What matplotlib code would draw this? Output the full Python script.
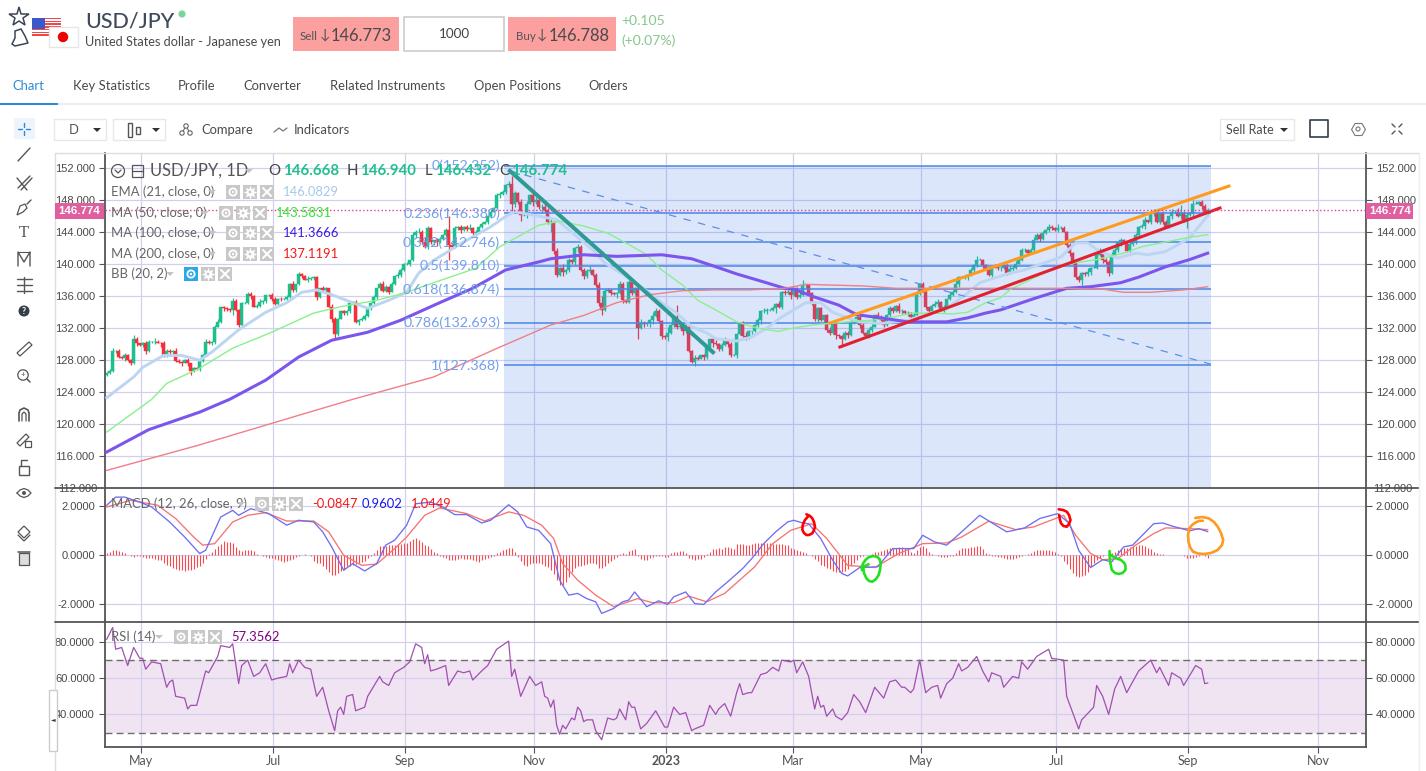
import numpy as np
import matplotlib
matplotlib.use('Agg')
import matplotlib.pyplot as plt
from matplotlib.patches import Rectangle, Circle, Polygon

plt.rcParams['font.family'] = ['Lato', 'DejaVu Sans']
plt.rcParams['lines.solid_joinstyle'] = 'round'

close_spring = [126.4,126.7,129.2,129.2,128.4,128.3,128.6,128.0,127.6,130.7,130.1,129.9,130.1,129.2,130.3,130.3,130.3,130.2,130.1,128.6,
    129.2,129.0,129.2,127.9,127.8,127.7,128.0,127.6,126.7,127.0,126.9,127.9,128.7,130.3,130.1,130.3,132.2,132.8,134.6,134.5,
    134.4,134.3,135.4,134.3,132.4,135.1,135.2,136.3,136.0,134.7,134.8,135.3,135.4,136.1,136.1,135.7,135.0,135.7,135.6,135.7,
    135.9,137.5,136.8,137.5,138.8,138.5,138.1,138.2,138.3,138.4,135.9,137.0,136.8,137.0,134.7,133.2,131.3,133.2]
close_autumn = [134.1,133.9,134.1,135.1,135.3,132.8,133.0,133.2,133.5,134.5,135.1,135.9,137.0,137.6,136.7,137.2,136.6,137.6,138.5,138.7,
    139.3,140.1,140.1,140.5,143.7,144.1,144.1,142.8,142.2,144.5,142.8,143.0,142.8,143.2,143.7,144.3,142.4,142.2,144.5,144.7,
    144.3,144.7,144.4,144.6,143.9,144.1,144.7,145.1,145.3,146.0,146.6,147.1,148.7,148.8,149.1,149.9,150.1,147.6,148.9,147.8,
    146.2,146.2,147.6,148.7,147.8,148.0,147.2,147.2,146.8,145.3,145.3]
close_winter = [141.7,138.7,139.5,139.0,139.3,140.5,140.3,142.1,142.2,139.3,138.5,139.2,139.3,138.7,137.4,135.2,134.3,136.7,136.8,136.4,
    136.3,136.4,137.6,135.5,135.3,137.8,136.4,137.0,132.0,132.6,132.5,132.6,133.0,133.5,134.2,132.9,131.0,130.9,131.4,132.4,
    133.4,132.1,132.3,131.7,132.2,129.2,127.8,128.3,128.2,128.6,128.4,129.7,130.6,130.1,130.0,129.4,129.9,130.4,130.0,128.6,
    128.6,131.3,132.6,131.0,130.9,131.6,131.6,132.4,133.0,134.1,134.1,134.3,134.3,134.5,135.0,134.6]
close_2023a = [136.6,136.4,136.6,136.2,137.0,135.9,136.2,137.4,137.4,136.4,135.1,133.1,134.5,133.0,133.6,131.8,131.4,132.6,131.1,131.0,
    130.7,131.4,131.1,132.7,133.1,133.4,132.4,131.4,131.0,131.8,132.2,133.6,133.4,133.0,132.4,133.6,134.5,134.1,134.8,134.1,
    134.2,133.9,133.9,133.4,133.7,136.4,137.6,136.6,134.6,134.1,134.8,135.0,135.3,134.2,134.7,135.6,136.2,136.6,137.6,138.4,
    138.4,138.4,138.7,139.3,139.9,140.6,140.6,139.9,139.4,138.7,139.7,139.7,139.5]
close_2023b = [139.5,139.9,138.9,139.4,139.6,140.1,140.6,141.8,141.8,141.4,141.8,143.1,143.7,143.2,143.9,144.3,144.7,144.6,144.3,144.6,
    144.6,144.1,142.4,141.4,140.2,138.4,138.0,138.9,138.8,139.1,139.6,139.6,141.2,141.7,140.5,140.3,138.9,141.2,141.8,142.8,
    143.0,142.8,141.7,142.6,142.8,143.7,144.7,144.8,145.5,145.3,146.4,146.6,145.3,146.4,145.3,144.7,146.0,146.6,146.6,146.0,
    146.4,145.5,146.2,146.4,147.6,147.6,147.8,147.3,146.6,146.77]

# wicks above and below the body, tenths of a yen, 20 bars a row
wick_up = [1,2,3,1,2,1,3,2,1,4,2,1,2,3,2,1,5,2,1,3,
    2,2,1,3,2,1,2,3,1,2,1,2,1,3,2,1,2,3,1,2,
    2,1,4,2,1,2,1,3,2,1,2,3,1,1,2,3,2,1,2,1,
    3,2,4,1,2,1,2,3,1,2,2,1,3,2,1,3,2,1,2,2,
    2,3,1,2,1,2,3,1,1,2,1,2,3,2,1,2,1,3,2,1,
    2,1,3,2,5,2,6,3,2,1,3,2,1,2,17,2,3,1,2,1,
    2,4,1,2,1,2,1,2,3,1,2,3,2,1,3,10,3,2,4,3,
    3,1,2,4,2,3,5,2,4,1,3,2,6,1,3,2,1,4,2,3,
    2,5,1,2,4,8,2,3,1,2,1,3,2,1,4,2,2,4,6,3,
    2,1,5,3,2,1,2,8,1,3,15,2,1,3,2,1,4,2,1,2,
    2,1,3,4,1,2,5,1,3,2,1,2,3,5,2,1,1,3,2,4,
    2,1,3,2,4,1,2,3,3,1,2,3,6,2,1,2,3,2,2,1,
    2,4,3,1,2,2,3,2,5,1,2,4,3,1,2,3,1,4,2,1,
    2,3,2,1,4,2,1,3,1,2,2,1,2,3,1,2,4,3,1,2,
    1,3,2,4,1,2,2,1,3,2,4,2,1,2,3,1,4,3,2,1,
    2,4,2,3,1,2,3,1,2,3,2,2,3,1,3,2,1,4,2,2,
    1,3,2,1,3,2,1,4,1,2,1,4,2,3,2,4,2,1,3,2,
    1,2,4,2,1,3,4,1,2,3,2,1,3,2,1,3,2,4,10,3,
    2,1,5,3,1,2,2,3]
wick_dn = [2,1,2,3,1,2,4,1,2,1,3,1,2,4,2,1,3,1,5,2,
    2,3,2,1,2,4,1,3,5,2,1,2,1,2,1,2,3,1,2,4,
    2,3,6,1,2,3,1,2,4,1,2,1,3,2,1,3,1,2,2,1,
    2,1,3,2,1,2,1,3,1,2,4,1,3,2,1,4,7,3,1,2,
    3,2,1,2,4,1,2,1,2,1,3,2,1,2,3,1,2,2,3,1,
    2,3,1,4,2,2,1,3,2,4,5,1,2,3,19,3,1,2,4,1,
    2,1,2,3,1,2,1,3,2,1,2,4,1,3,2,12,4,3,8,2,
    4,1,5,2,3,8,3,2,12,4,3,1,5,2,3,2,4,6,1,3,
    2,3,1,2,4,7,2,1,3,2,5,1,4,2,1,3,2,13,1,3,
    2,4,5,1,2,3,3,5,1,2,2,1,6,3,2,2,5,2,1,4,
    2,3,5,1,3,2,1,4,2,1,3,2,1,4,2,3,1,2,5,2,
    3,1,2,6,1,2,3,1,5,2,3,1,2,4,1,2,2,3,1,2,
    3,2,1,4,2,10,2,3,1,2,3,4,1,2,2,3,1,2,1,2,
    1,3,2,1,2,3,1,4,2,1,2,3,1,2,4,1,2,3,1,2,
    3,1,2,2,4,1,2,3,1,2,2,1,3,1,2,4,1,2,3,1,
    2,1,3,2,1,2,3,2,1,3,1,4,2,1,2,3,1,2,2,1,
    2,3,1,2,2,6,3,2,4,1,2,1,3,2,4,1,2,3,5,1,
    2,1,3,2,1,2,4,1,2,3,1,2,3,1,2,3,2,1,3,2,
    9,2,3,1,2,4,3,5]

tick_bars = [11.3,55.5,99.5,142.5,186.5,228.7,271.5,316.5,360.5,403.8]
tick_names = ['May','Jul','Sep','Nov','2023','Mar','May','Jul','Sep','Nov']

ema_x = [0,9,12,19,25,31,35,44,53,60,65,70,75,82,87,94,100,104,109,119,128,133,136,150,162,166,171,175,181,185,190,195,200,203,210,215,220,225,229,233,238,242,247,251,258,267,280,287,291,301,306,318,323,327,331,337,343,347,353,361,367]
ema_y = [123.3,125.9,127.1,128.6,128.6,128.0,129.0,131.8,134.0,135.2,136.5,136.8,136.2,135.2,134.5,135.5,136.5,138.9,140.5,142.8,144.7,146.0,146.6,145.6,141.8,140.2,139.0,138.0,136.4,135.2,133.9,132.2,131.4,130.7,130.4,130.9,132.0,133.4,134.3,135.2,135.2,134.0,133.3,132.8,132.6,133.0,134.5,136.4,137.7,138.9,139.3,140.9,142.7,142.7,141.6,140.8,141.4,141.2,141.6,143.3,146.1]
ma50_x = [0,15,20,31,42,55,69,78,90,100,109,123,131,144,151,159,167,174,180,185,192,197,203,210,217,224,227,235,247,255,262,269,275,282,287,293,298,301,309,317,323,330,339,345,353,361,367]
ma50_y = [119.0,123.1,125.1,127.0,129.5,131.5,133.9,134.7,135.5,136.5,137.7,139.5,142.2,144.9,145.4,144.8,143.9,142.5,141.2,139.3,137.4,135.5,134.3,132.8,132.0,131.6,131.9,132.4,132.8,133.0,133.4,133.9,133.9,133.8,134.0,135.2,135.8,136.8,138.3,139.7,140.2,140.6,141.4,142.2,142.8,143.4,143.7]
ma100_x = [0,14,31,41,53,64,75,87,98,111,122,133,144,148,159,170,185,195,203,210,219,226,229,236,244,250,258,267,280,287,293,298,309,320,328,338,344,353,361,367]
ma100_y = [116.5,119.3,121.5,123.1,125.5,128.4,130.5,131.5,133.0,135.2,137.0,139.3,140.3,140.7,141.2,141.0,141.2,140.7,139.7,138.8,137.8,137.0,136.9,135.9,134.9,133.7,133.3,132.8,132.8,133.3,133.9,134.3,135.7,137.0,137.2,137.7,138.4,139.7,140.6,141.4]
ma200_x = [0,31,64,82,109,129,148,159,170,181,192,203,214,226,233,242,252,263,280,298,320,332,339,348,359,363,367]
ma200_y = [114.2,117.4,121.1,123.1,125.9,129.3,132.4,133.6,135.2,136.2,136.7,136.8,136.8,137.0,137.5,137.4,137.3,137.0,137.0,137.0,137.0,136.9,136.5,136.5,136.8,137.0,137.2]

fib_levels = [152.352,146.380,142.746,139.810,136.874,132.693,127.368,111.080]
fib_names = ['0','0.236','0.382','0.5','0.618','0.786','1','1.618']

teal_x, teal_y = [134.4,202.1], [151.7,129.0]
fibdash_x, fibdash_y = [134.4,368.1], [151.7,127.5]
orange_x, orange_y = [241.1,374.1], [132.65,149.8]
red_x, red_y = [244.4,371.1], [129.65,147.05]

macd_x = [0,3,6,11,15,21,26,31,33,38,42,44,48,54,60,64,69,72,75,79,82,86,90,93,96,100,103,108,112,116,120,125,128,134,137,140,144,148,151,154,157,160,163,165,169,172,174,176,180,184,187,189,193,196,199,203,207,212,
    215,219,223,227,229,232,234,238,242,245,247,251,257,262,269,272,276,280,285,291,300,306,311,317,321,324,328,332,335,339,342,349,352,355,361,364,367]
macd_y = [2.03,2.36,2.36,2.16,1.96,1.35,.74,.07,.2,1.55,1.82,1.62,1.89,1.69,1.22,1.42,1.35,.95,.34,-.61,-.34,-.64,-.34,.41,.61,1.22,2.09,2.16,1.96,1.65,1.65,1.31,1.42,2.05,1.76,1.15,1.01,.47,-1.01,-1.62,-1.55,-1.76,-1.89,-2.36,-2.16,-1.89,-1.82,-1.49,-2.09,-1.85,-2.0,-1.69,-1.49,-1.96,-2.0,-1.49,-1.08,-.54,
    -.14,.47,.95,1.35,1.42,1.31,1.28,.68,-.2,-.74,-.84,-.5,-.47,.27,.27,.81,.54,.41,.95,1.62,.95,1.11,1.49,1.69,1.28,.2,-.5,-.18,-.27,.34,.41,1.28,1.31,1.19,.99,1.08,.96]
signal_x = [0,8,17,23,29,32,36,42,47,53,60,69,74,79,85,90,96,100,106,111,120,126,134,139,145,149,152,157,163,169,177,182,189,194,200,206,211,
    216,222,228,235,240,247,256,264,272,280,285,294,303,309,319,323,328,332,337,343,349,353,361,367]
signal_y = [1.96,2.23,2.03,1.49,.74,.41,.47,1.35,1.62,1.73,1.39,1.39,.95,0,-.41,-.36,.27,.74,1.62,1.92,1.69,1.39,1.76,1.62,1.22,.68,-.34,-1.01,-1.62,-2.09,-1.76,-1.93,-1.93,-1.66,-1.89,-1.55,-1.01,
    -.47,.47,1.01,1.28,.68,-.41,-.5,.07,.47,.5,.74,1.38,1.04,1.15,1.62,.81,.07,-.18,-.14,.41,.88,1.11,1.08,1.04]

# histogram in hundredths, 5 bars a group
hist = [8,14,23,21,19, 15,8,3,-3,-7, -2,-3,-7,-10,-11, -13,-14,-18,-21,-30, -38,-42,-50,-55,-58,
    -60,-62,-61,-58,-54, -49,-42,-30,-14,4, 13,25,36,44,57, 54,52,48,35,20, 18,20,20,22,19,
    4,1,-4,-7,-11, -13,-16,-20,-23,-26, -24,-20,-15,-9,-3, 3,4,2,-5,-25, -30,-33,-42,-56,-70,
    -80,-82,-72,-65,-55, -45,-42,-38,-35,-30, -28,-25,-12,-2,8, 22,36,38,39,42, 40,42,44,46,48,
    50,56,66,70,60, 52,42,38,26,14, 8,-2,-6,-12,-18, -20,-18,-14,-13,-14, -15,-16,-20,-24,-26,
    -20,-16,-12,-8,-3, 8,14,22,26,28, 30,14,-6,-22,-38, -42,-34,-30,-32,-30, -36,-42,-48,-60,-78,
    -100,-120,-122,-108,-90, -70,-52,-44,-42,-40, -36,-32,-30,-35,-52, -50,-44,-30,-24,-15,
    -6,5,8,6,18, 22,24,-4,-16,-20, -18,-12,-6,-2,-3, -5,-7,-8,10,14, 14,16,18,8,-10,
    -16,-18,-16,-14,-8, 4,14,24,25,28, 27,32,35,30,26, 47,46,44,42,42, 45,48,50,48,50,
    50,48,46,45,47, 44,42,40,30,26, 20,18,12,8,3, -2,-14,-25,-38,-45, -50,-55,-62,-68,-70,
    -68,-65,-55,-42,-30, -18,-8,-3,-1,2, 6,12,14,18,22, 26,28,30,30,32, 34,30,24,12,8,
    22,35,38,30,14, 6,2,-2,-6,-9, -8,-5,-2,10,22, 28,30,31,32,34, 36,38,24,8,4,
    -2,-5,-6,-9,-12, -14,-16,-15,-12,-6, -2,2,4,10,16, 20,22,20,23,20, 16,12,6,-4,-22,
    -35,-55,-72,-84,-88, -86,-80,-68,-45,-30, -18,-10,-4,2,4, 8,14,20,24,28, 30,32,36,38,40,
    40,38,30,24,15, 8,5,4,3,3, 1,1,1,-1,-5, -10,-11,-10,-6,-2, 2,-4,-12]

rsi_x = [0,2,3,5,7,9,11,12,13,15,18,20,21,22,23,26,27,28,30,33,34,37,38,41,42,44,45,47,49,51,53,55,57,60,61,62,64,66,68,70,72,74,76,77,78,79,80,82,83,86,87,91,92,94,96,99,101,103,105,106,107,108,110,113,114,117,119,121,122,125,127,130,134,135,136,138,141,143,145,146,147,148,149,150,151,152,153,155,156,157,158,159,160,162,163,165,167,169,170,171,173,174,175,176,178,180,183,186,187,189,191,193,195,196,199,201,
    203,204,206,208,210,211,212,214,215,218,220,222,224,225,228,229,230,232,234,236,237,238,239,240,242,243,245,247,249,251,253,256,259,261,263,265,266,268,269,271,273,275,277,278,280,282,284,285,287,290,292,294,295,298,299,302,304,305,307,310,314,315,319,320,324,325,329,330,332,334,336,338,340,344,348,350,351,354,355,358,359,363,365,366,367]
rsi_y = [81.5,88,76,77,67,77,71,71,65,69,68,55,58,59,50,49,43,45,45,64,63,72,78,77,79,57,67,70,61,63,68,59,60,61,68,63,70,66,65,50,55,42,31,42,44,40,50,51,42,44,50,61,58,56,63,66,69,79,77,68,73,64,65,67,56,64,63,64,59,64,67,76,80.5,61,65,50,61,56,58,50,49,44,48,34,29,34,32,38,37,44,42,36,37,37,31,26,38,37,38,43,37,47,44,44,32,35,42,33,33,44,40,41,31,32,34,45,
    40,43,46,39,52,57,51,52,52,62,63,66,64,70,69,70,63,69,61,43,50,44,45,39,43,39,37,41,51,47,41,55,49,58,59,55,55,52,54,70,52,55,56,49,57,60,68,64,66,72,64,58,63,61,55,61,60,69,65,72,76,71,70,50,32,37,44,56,50,40,54,61,52,64,70,63,66,56,63,60,56,67,65,57,57.36]

# hand drawn marks on the MACD pane (screen pixels)
scribbles = {
    'red': [([806.5,810,812.3,814,815,814,812.3,809,806.5,804,802.4,802.6,803.3,805,807.8],[514.3,516,518.3,522,526.7,530,533.3,535,535,533,530,526,523.3,520,516.7]),
            ([1058.7,1063,1066.8,1069,1070.5,1069,1066.8,1063.5,1061,1059.8,1059.2],[509.3,510,511.7,515,520,524,526.7,526,523.3,519,515])],
    '#22e01e': [([868.6,865,863.2,864,866.4,869,872.3,876,878.6,880,880.8,879.5,876.8,873,868.6,865.5,863.2,862,861.9],[564.3,566,568.3,573,578.3,581,581.7,579,575,570,563.3,559,556.7,556,557.3,560,563.3,566,570]),
                ([1109.6,1109.6,1110.5,1111.9,1115,1118.6,1122.5,1125.4,1125.5,1124.5,1121,1116.4,1113,1111],[551,556,564,570,573,574,573,570,566,563.3,560,558.3,556.5,555])],
    '#ff9a1f': [([1195.2,1202,1208.7,1214,1217.7,1221,1223.2,1222,1217.7,1211,1204.2,1198,1193,1190,1188.5,1188,1189.4,1192,1195.2,1199,1202.9],[518,517,518.3,522,526.7,533,540,545,550,553,554,553.5,551.7,547,541.7,535,528.3,525,522.7,521,520.7])],
}

close = np.array(close_spring + close_autumn + close_winter + close_2023a + close_2023b)
bars = np.arange(len(close))
opens = np.r_[126.2, close[:-1]]
top = np.maximum(opens, close) + np.array(wick_up) / 10
bottom = np.minimum(opens, close) - np.array(wick_dn) / 10

W, H = 1426, 771
fig = plt.figure(figsize=(14.26, 7.71), dpi=100, facecolor='white')
LEFT, RIGHT = 104.5, 1366


def pane(y0, y1, ylim, ticks):
    ax = fig.add_axes([LEFT / W, 1 - y1 / H, (RIGHT - LEFT) / W, (y1 - y0) / H])
    ax.set_xlim((LEFT - 106.67) / 3, (RIGHT - 106.67) / 3)
    ax.set_ylim(*ylim)
    ax.set_yticks(ticks)
    ax.set_xticks(tick_bars)
    ax.grid(True, color='#d0d0ee', lw=0.85)
    ax.set_axisbelow(True)
    ax.tick_params(axis='y', left=True, right=True, labelleft=True, labelright=True, length=4, color='#555555',
                   labelsize=8.0, labelcolor='#4a4a4a', pad=3)
    ax.tick_params(axis='x', length=0, labelbottom=False)
    for s in ax.spines.values():
        s.set_color('#555555')
        s.set_linewidth(1.3)
    ax.spines['top'].set_visible(False)
    return ax


# price pane
ax1 = pane(153, 488, (112.0, 153.94), np.arange(116, 153, 4))
ax1.set_yticklabels(['%.3f' % v for v in np.arange(116, 153, 4)], family='Liberation Sans')
ax1.spines['bottom'].set_visible(False)
up = close >= opens
ax1.vlines(bars[up], bottom[up], top[up], color='#1cc08c', lw=0.9, zorder=2)
ax1.vlines(bars[~up], bottom[~up], top[~up], color='#f5303a', lw=0.9, zorder=2)
ax1.bar(bars[up], (close - opens)[up], 0.8, opens[up], color='#1cc08c', edgecolor='#1cc08c', lw=0.3, zorder=2)
ax1.bar(bars[~up], (close - opens)[~up], 0.8, opens[~up], color='#f5303a', edgecolor='#f5303a', lw=0.3, zorder=2)

fib_l, fib_r = (504 - 106.67) / 3, (1211 - 106.67) / 3
ax1.add_patch(Rectangle((fib_l, fib_levels[-1]), fib_r - fib_l, fib_levels[0] - fib_levels[-1],
                        color='#4d85e8', alpha=0.2, lw=0, zorder=3))
ax1.hlines(fib_levels, fib_l, fib_r, color='#4a86e8', lw=1.1, zorder=3)
for name, lev in zip(fib_names, fib_levels):
    ax1.text(fib_l - 1.3, lev, '%s(%.3f)' % (name, lev), ha='right', va='center', fontsize=10.3,
             color='#72a0ec', clip_on=True, zorder=7)

ax1.plot(ema_x, ema_y, color='#bcd5f2', lw=2.1, zorder=4)
ax1.plot(ma50_x, ma50_y, color='#8af08a', lw=1.0, zorder=4)
ax1.plot(ma100_x, ma100_y, color='#7c55ec', lw=2.2, zorder=4)
ax1.plot(ma200_x, ma200_y, color='#f07f86', lw=1.0, zorder=4)
ax1.plot(fibdash_x, fibdash_y, color='#5d8fe8', lw=0.9, ls=(0, (6, 6)), zorder=5)
ax1.plot(teal_x, teal_y, color='#2f9a94', lw=2.9, zorder=6)
ax1.plot(orange_x, orange_y, color='#ff9a1f', lw=2.2, zorder=6)
ax1.plot(red_x, red_y, color='#e3202e', lw=2.2, zorder=6)
ax1.axhline(146.774, color='#e23d9b', ls=':', lw=1.0, zorder=6)

# macd pane
ax2 = pane(488, 621, (-2.67, 2.73), [-2, 0, 2])
ax2.set_yticklabels(['-2.0000', '0.0000', '2.0000'], family='Liberation Sans')
ax2.spines['bottom'].set_visible(False)
ax2.vlines(bars, 0, np.array(hist) / 100, color='#f8484c', lw=0.8, zorder=2)
ax2.plot(signal_x, signal_y, color='#f87272', lw=0.95, zorder=3)
ax2.plot(macd_x, macd_y, color='#6e6ef0', lw=0.95, zorder=4)

# rsi pane
ax3 = pane(621, 747, (22.0, 91.6), [40, 60, 80])
ax3.set_yticklabels(['40.0000', '60.0000', '80.0000'], family='Liberation Sans')
ax3.axhspan(30, 70, color='#f0e3f2', lw=0, zorder=0)
ax3.hlines([30, 70], *ax3.get_xlim(), color='#6e6e6e', lw=1.0, ls=(0, (5, 3)), zorder=2)
ax3.plot(rsi_x, rsi_y, color='#a050b0', lw=0.9, zorder=3)
ax3.tick_params(axis='x', length=4, color='#555555')

# everything that is screen furniture lives on a pixel overlay
ui = fig.add_axes([0, 0, 1, 1], zorder=10)
ui.set_xlim(0, W)
ui.set_ylim(H, 0)
ui.axis('off')
ui.patch.set_alpha(0)


def T(x, y, s, px=13, color='#555555', ha='left', va='center', **kw):
    return ui.text(x, y, s, fontsize=px * 0.72, color=color, ha=ha, va=va, **kw)


def box(x0, y0, x1, y1, fc='white', ec='none', lw=1.0, z=2):
    ui.add_patch(Rectangle((x0, y0), x1 - x0, y1 - y0, fc=fc, ec=ec, lw=lw, zorder=z))


def line(xs, ys, color='#555555', lw=1.0, **kw):
    ui.plot(xs, ys, color=color, lw=lw, solid_capstyle='round', **kw)


def buttons(x, y, fc0='#c8c8c8', step=17):
    for i in range(3):
        xx = x + i * step
        box(xx, y - 7, xx + 14, y + 7, fc=fc0 if i == 0 else '#c8c8c8')
        if i == 0:
            ui.add_patch(Circle((xx + 7, y), 3.6, fc='none', ec='white', lw=1.3, zorder=3))
            ui.add_patch(Circle((xx + 7, y), 1.2, fc='white', ec='none', zorder=3))
        elif i == 1:
            ui.plot(xx + 7, y, marker=(8, 1, 0), ms=10, color='white', mew=0, zorder=3)
            ui.add_patch(Circle((xx + 7, y), 1.4, fc='#c8c8c8', ec='none', zorder=4))
        else:
            line([xx + 3, xx + 11], [y - 4, y + 4], 'white', 1.5, zorder=3)
            line([xx + 3, xx + 11], [y + 4, y - 4], 'white', 1.5, zorder=3)


def caret(x, y, color='#c4c4c4', s=4):
    ui.add_patch(Polygon([(x - s, y - s / 2), (x + s, y - s / 2), (x, y + s / 2)], fc=color, ec='none', zorder=3))


# frame around the chart
line([55, 1419], [153, 153], '#dddddd', 1.0)
line([55, 55], [153, 771], '#dddddd', 1.0)
line([55, 1419], [488, 488], '#555555', 1.3)
line([55, 1419], [621.5, 621.5], '#555555', 1.3)
line([1419, 1419], [153, 771], '#eeeeee', 1.0)

# header
ui.plot(19, 17, marker='*', ms=15, mfc='white', mec='#3a4656', mew=1.1)
ui.add_patch(Polygon([(15, 31), (21, 29), (25, 36), (28, 43), (15, 46), (12, 44), (15, 38)], fc='white', ec='#3a4656', lw=1.1))
for i in range(7):
    box(32, 18 + i * 2.7, 60.5, 19.4 + i * 2.7, fc='#f04848', z=1)
box(32, 18, 45, 29, fc='#3a58c8', z=1)
box(49, 27, 78, 47, fc='white', ec='#e6e6e6', z=2)
ui.add_patch(Circle((63, 37), 5.2, fc='#f00000', ec='none', zorder=3))
T(85, 21, 'USD/JPY', 21.5, '#3f4a5a', weight='medium')
ui.add_patch(Circle((182, 14), 3.6, fc='#7cd59a', ec='none'))
T(85, 42, 'United States dollar - Japanese yen', 12.7, '#4a4a4a')
box(293, 17, 399, 51, fc='#fb9f9f')
T(300, 37, 'Sell', 11.5, '#555555')
T(320, 35, '\u2193', 14, '#555555')
T(331, 36, '146.773', 16.5, '#4a4a4a')
box(404, 17, 504, 51, fc='white', ec='#cccccc', lw=1.2)
T(454, 34, '1000', 13.5, '#444444', ha='center')
box(508, 17, 616, 51, fc='#fb9f9f')
T(516, 37, 'Buy', 11.5, '#555555')
T(537, 35, '\u2193', 14, '#555555')
T(549, 36, '146.788', 16.5, '#4a4a4a')
T(621, 21, '+0.105', 14, '#86c78e')
T(621, 41, '(+0.07%)', 14, '#86c78e')

for x, s in zip([12, 73, 178, 243, 330, 474, 588], ['Chart', 'Key Statistics', 'Profile', 'Converter', 'Related Instruments', 'Open Positions', 'Orders']):
    T(x, 86, s, 13, '#2a8ad4' if s == 'Chart' else '#4a4a4a')
box(0, 103, W, 105, fc='#ececec')
box(0, 103, 58, 105, fc='#2a8ad4', z=3)

# toolbar row
box(54, 119, 106, 140, ec='#e8e8e8')
T(69, 130, 'D', 13, '#555555')
caret(97, 130, '#333333')
box(113, 119, 165, 140, ec='#e8e8e8')
box(128, 123, 132, 137, ec='#555555')
box(136, 127, 140, 134, ec='#555555')
caret(156, 130, '#333333')
for cx, cy in [(182, 133), (190, 133), (186, 126)]:
    ui.add_patch(Circle((cx, cy), 2.2, fc='white', ec='#666666', lw=0.8, zorder=3))
line([182, 186, 190], [133, 126, 133], '#666666', 0.8)
T(201, 130, 'Compare', 13, '#4a4a4a')
line([274, 279, 283, 287], [132, 128, 131, 128], '#777777', 0.9)
T(294, 130, 'Indicators', 13, '#4a4a4a')
box(1220, 119, 1294, 140, ec='#e8e8e8')
T(1226, 130, 'Sell Rate', 12.5, '#4a4a4a')
caret(1284, 130, '#333333')
ui.add_patch(Rectangle((1310, 120), 18, 17, fc='white', ec='#333e48', lw=1.2, joinstyle='round'))
ui.plot(1358, 129, marker='H', ms=10, mfc='white', mec='#777777', mew=0.8)
ui.add_patch(Circle((1358, 129), 2, fc='white', ec='#777777', lw=0.8, zorder=3))
for dx, dy in [(-1, -1), (1, -1), (-1, 1), (1, 1)]:
    line([1397 + dx * 2, 1397 + dx * 5], [129 + dy * 2, 129 + dy * 5], '#555555', 1.0)

# left tool column
box(14, 118, 35, 139, fc='#eef4fc')
line([24, 24], [123, 127], '#2a8ad4', 1.0)
line([24, 24], [131, 135], '#2a8ad4', 1.0)
line([18, 22], [129, 129], '#2a8ad4', 1.0)
line([26, 30], [129, 129], '#2a8ad4', 1.0)
line([18, 30], [161, 148], '#555555', 1.0)
line([18, 30], [188, 176], '#555555', 1.0)
line([21, 32], [190, 178], '#555555', 1.0)
line([17, 27], [178, 190], '#555555', 1.0)
ui.add_patch(Polygon([(17, 215), (20, 206), (25, 204), (27, 208), (23, 212)], fc='white', ec='#555555', lw=0.9))
line([27, 31], [204, 200], '#555555', 1.0)
T(24, 233, 'T', 15, '#555555', ha='center', family='DejaVu Serif')
line([18, 18, 24, 30, 30], [266, 252, 262, 252, 266], '#555555', 1.0)
line([18, 30], [252, 252], '#555555', 0.8)
line([17, 32], [279, 279], '#555555', 1.0)
line([17, 32], [285, 285], '#555555', 1.0)
line([17, 32], [291, 291], '#555555', 1.0)
line([24, 24], [277, 293], '#555555', 1.0)
ui.add_patch(Circle((24, 311), 5.5, fc='#333e48', ec='none'))
T(24, 311, '?', 9, 'white', ha='center', weight='bold')
ui.add_patch(Polygon([(17, 353), (29, 342), (32, 345), (20, 356)], fc='white', ec='#555555', lw=0.9))
ui.add_patch(Circle((23, 375), 5.2, fc='white', ec='#555555', lw=0.9))
line([27, 30], [379, 382], '#555555', 1.1)
T(23, 375, '+', 8, '#555555', ha='center')
line([19, 19, 20, 24, 28, 29, 29], [421, 413, 410, 408, 410, 413, 421], '#555555', 1.2)
line([22, 22, 24, 26, 26], [421, 414, 412, 414, 421], '#555555', 0.9)
ui.add_patch(Polygon([(17, 443), (26, 434), (29, 437), (20, 446)], fc='white', ec='#555555', lw=0.9))
box(25, 441, 31, 447, fc='white', ec='#555555', lw=0.9, z=3)
box(19, 466, 29, 475, fc='white', ec='#555555', lw=1.0)
line([21, 21, 27], [466, 460, 460], '#555555', 1.0)
ui.add_patch(Circle((24, 493), 2, fc='#555555', ec='none'))
line([17, 20, 24, 28, 31, 28, 24, 20, 17], [493, 490, 488.5, 490, 493, 496, 497.5, 496, 493], '#555555', 0.9)
ui.add_patch(Polygon([(18, 532), (24, 526), (30, 532), (24, 538)], fc='white', ec='#555555', lw=0.9))
line([18, 24, 30], [535, 541, 535], '#555555', 0.9)
box(19, 553, 29, 565, fc='#dddddd', ec='#555555', lw=0.9)
line([18, 30], [552, 552], '#555555', 1.1)

# collapse tab
box(49, 690, 57, 751, ec='#cccccc')
T(53, 720, '\u25c4', 6, '#333333', ha='center', family='DejaVu Sans')

# indicator legends
ui.add_patch(Circle((118, 171), 6.5, fc='none', ec='#555555', lw=0.9))
line([115, 118, 121], [170, 173, 170], '#555555', 0.9)
box(132, 165, 143, 177, fc='none', ec='#555555', lw=0.9)
line([132, 143], [171, 171], '#555555', 0.9)
T(150, 171, 'USD/JPY, 1D', 16.5, '#555555')
caret(249, 171)
green = '#1fc08e'
for x, s, col, wt in [(268, 'O', '#444444', 'normal'), (283, '146.668', green, 'bold'), (347, 'H', '#444444', 'normal'),
                      (360, '146.940', green, 'bold'), (425, 'L', '#444444', 'normal'), (435, '146.432', green, 'bold'),
                      (499, 'C', '#444444', 'normal'), (511, '146.774', green, 'bold')]:
    T(x, 171, s, 15, col, weight=wt)

legend_names = ['EMA (21, close, 0)', 'MA (50, close, 0)', 'MA (100, close, 0)', 'MA (200, close, 0)']
legend_vals = ['146.0829', '143.5831', '141.3666', '137.1191']
legend_cols = ['#a8c8ec', '#2ee82e', '#3a1fe0', '#f81818']
legend_rows = [192, 213, 233, 254]
legend_btn = [226, 219, 226, 226]
legend_num = [283, 276, 283, 283]
legend_caret = [212, 205, 212, 212]
for i in range(4):
    T(111, legend_rows[i], legend_names[i], 13, '#666666')
    caret(legend_caret[i], legend_rows[i])
    buttons(legend_btn[i], legend_rows[i])
    T(legend_num[i], legend_rows[i], legend_vals[i], 13, legend_cols[i])
T(111, 274, 'BB (20, 2)', 13, '#666666')
caret(170, 274)
buttons(184, 274, fc0='#2aa8e8')

T(111, 504, 'MACD (12, 26, close, 9)', 13, '#666666')
caret(241, 504)
buttons(255, 504)
T(312, 504, '-0.0847', 13, '#f81818')
T(362, 504, '0.9602', 13, '#1818f0')
T(411, 504, '1.0449', 13, '#f81818')
T(111, 637, 'RSI (14)', 13, '#666666')
caret(159, 637)
buttons(174, 637)
T(231, 637, '57.3562', 13, '#800080')

# last price tags
box(55, 203, 104, 219, fc='#e0609f', z=4)
box(1366, 203, 1413, 219, fc='#e0609f', z=4)
T(79.5, 211, '146.774', 11.5, 'white', ha='center', weight='bold', family='Liberation Sans', zorder=5)
T(1390, 211, '146.774', 11.5, 'white', ha='center', weight='bold', family='Liberation Sans', zorder=5)

# 112 labels get cut off by the macd pane
for x, ha in [(97.5, 'right'), (1373, 'left')]:
    t = ui.text(x, 489, '112.000', fontsize=8.0, color='#4a4a4a', ha=ha, va='center', family='Liberation Sans')
    t.set_clip_path(Rectangle((0, 470), W, 18, transform=ui.transData))

# date labels
for b, name in zip(tick_bars, tick_names):
    T(106.67 + b * 3, 761, name, 12.5, '#555555', ha='center', weight='bold' if name == '2023' else 'normal')

for col, marks in scribbles.items():
    for xs, ys in marks:
        line(xs, ys, col, 1.9, zorder=8)

fig.savefig('out.png', dpi=100)
